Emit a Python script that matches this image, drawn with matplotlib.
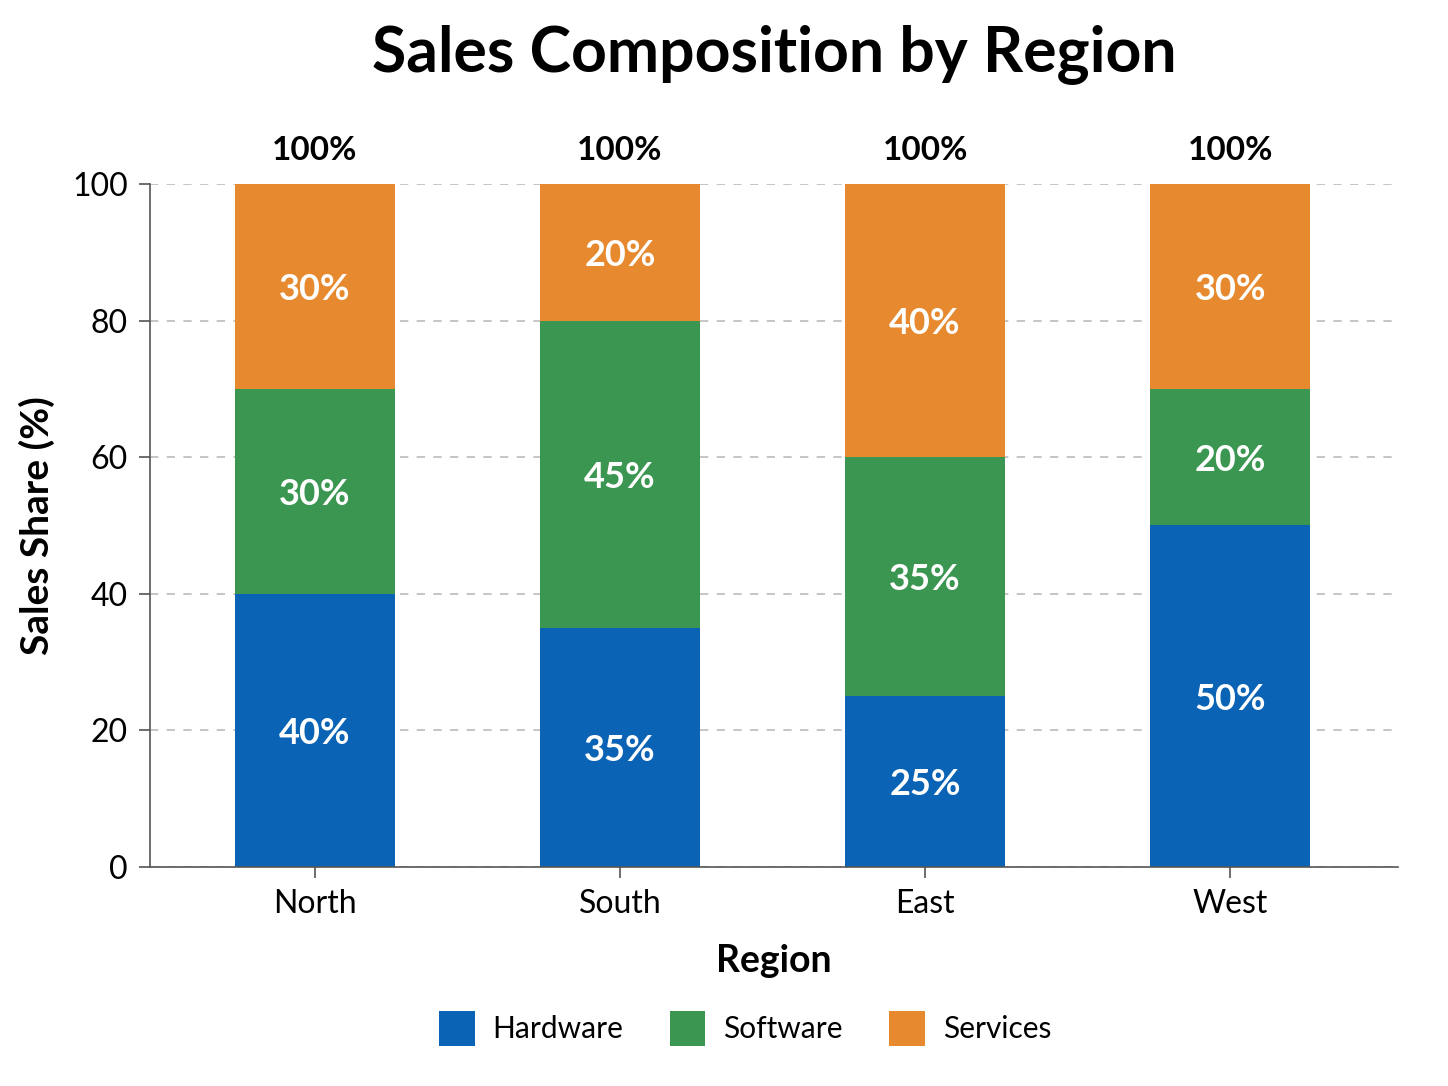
import numpy as np
import matplotlib
matplotlib.use("Agg")
import matplotlib.pyplot as plt

regions = ["North", "South", "East", "West"]
hardware = [40, 35, 25, 50]
software = [30, 45, 35, 20]
services = [30, 20, 40, 30]
series_names = ["Hardware", "Software", "Services"]
colors = ["#0A63B4", "#3A9650", "#E78A2F"]

plt.rcParams["font.family"] = ["Lato", "DejaVu Sans"]

fig = plt.figure(figsize=(14.48, 10.86), dpi=100)
ax = fig.add_axes([0.1036, 0.2017, 0.8619, 0.6289])

x = np.arange(len(regions))
width = 0.525
bottom = np.zeros(len(regions))
handles = []
for name, vals, col in zip(series_names, [hardware, software, services], colors):
    vals = np.array(vals, dtype=float)
    bars = ax.bar(x, vals, width, bottom=bottom, color=col, label=name, zorder=2)
    handles.append(bars)
    for xi, b, v in zip(x, bottom, vals):
        ax.text(xi, b + v / 2, f"{v:.0f}%", ha="center", va="center_baseline",
                color="white", fontsize=26, fontweight="bold", zorder=3)
    bottom += vals

# totals above each bar
for xi, tot in zip(x, bottom):
    ax.text(xi, tot + 5.3, f"{tot:.0f}%", ha="center", va="center_baseline",
            color="black", fontsize=24, fontweight="bold")

ax.set_xlim(-0.54, 3.55)
ax.set_ylim(0, 100)
ax.set_yticks(np.arange(0, 101, 20))
ax.set_xticks(x)
ax.set_xticklabels(regions)
ax.tick_params(axis="both", labelsize=23, length=8, color="#555555", width=1.2, pad=8)
ax.grid(axis="y", linestyle=(0, (5, 5)), color="#bbbbbb", linewidth=1.2, zorder=0)
for s in ["top", "right"]:
    ax.spines[s].set_visible(False)
for s in ["left", "bottom"]:
    ax.spines[s].set_color("#555555")
    ax.spines[s].set_linewidth(1.2)

ax.set_xlabel("Region", fontsize=27, fontweight="bold", labelpad=18)
ax.set_ylabel("Sales Share (%)", fontsize=28, fontweight="bold", labelpad=12)

fig.suptitle("Sales Composition by Region", fontsize=45, fontweight="bold",
             x=0.535, y=0.978)

fig.legend(handles=handles, labels=series_names, loc="center",
           bbox_to_anchor=(0.5145, 0.053), ncol=3, frameon=False, fontsize=21.5,
           handlelength=1.2, handleheight=1.45, handletextpad=0.6, columnspacing=1.55)

fig.savefig("out.png", dpi=100)
